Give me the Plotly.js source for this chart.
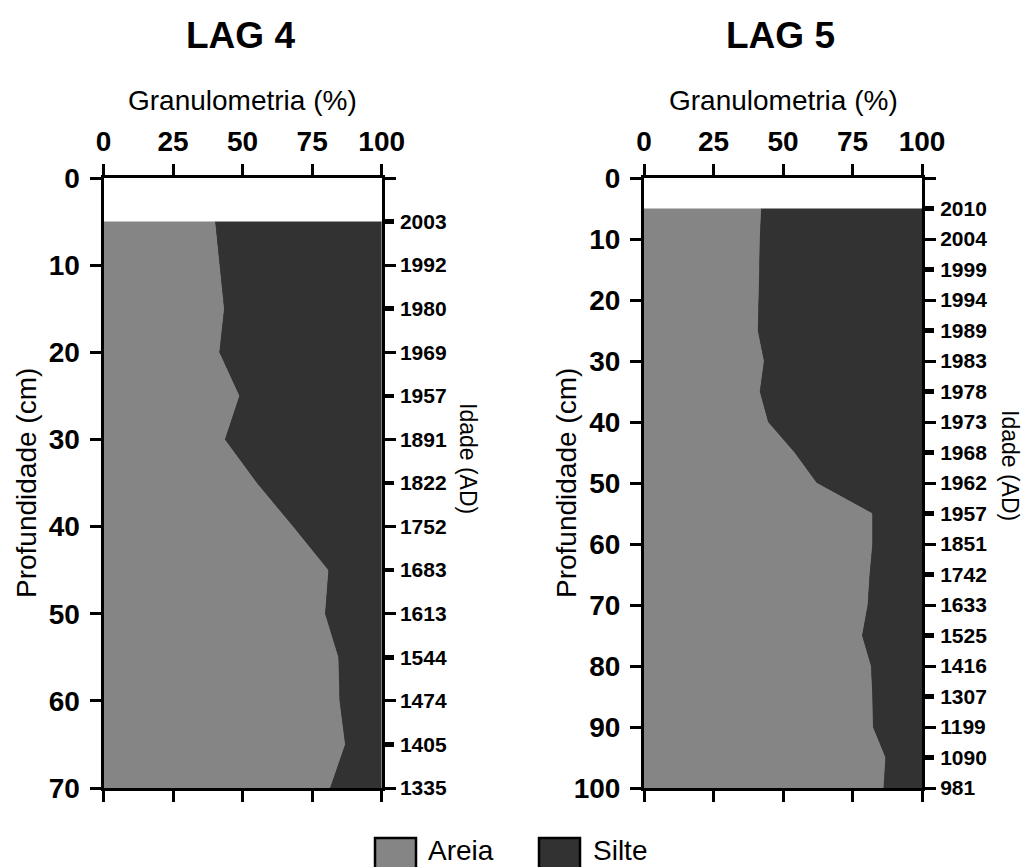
<!DOCTYPE html>
<html>
<head>
<meta charset="utf-8">
<script src="https://cdn.plot.ly/plotly-3.0.1.min.js"></script>
<style>
html,body{margin:0;padding:0;background:#fff;}
#chart{width:1036px;height:867px;}
</style>
</head>
<body>
<div id="chart"></div>
<script>
// ---- data ----
var lag4Depth = [5, 10, 15, 20, 25, 30, 35, 40, 45, 50, 55, 60, 65, 70];
var lag4Areia = [40, 41.7, 43.2, 41.5, 48.7, 43.5, 55, 68, 80.7, 79.5, 84.3, 84.7, 86.7, 81.3];
var lag4Silte = [60, 58.3, 56.8, 58.5, 51.3, 56.5, 45, 32, 19.3, 20.5, 15.7, 15.3, 13.3, 18.7];
var lag4Idade = ['2003','1992','1980','1969','1957','1891','1822','1752','1683','1613','1544','1474','1405','1335'];

var lag5Depth = [5, 10, 15, 20, 25, 30, 35, 40, 45, 50, 55, 60, 65, 70, 75, 80, 85, 90, 95, 100];
var lag5Areia = [42, 41.5, 41.3, 41, 40.8, 43, 41.5, 44.5, 54, 62, 82, 82, 81, 80.3, 78.3, 81.5, 82, 82.2, 86.7, 86];
var lag5Silte = [58, 58.5, 58.7, 59, 59.2, 57, 58.5, 55.5, 46, 38, 18, 18, 19, 19.7, 21.7, 18.5, 18, 17.8, 13.3, 14];
var lag5Idade = ['2010','2004','1999','1994','1989','1983','1978','1973','1968','1962','1957','1851','1742','1633','1525','1416','1307','1199','1090','981'];

var xTicks = [0, 25, 50, 75, 100];
var lag4DepthTicks = [0, 10, 20, 30, 40, 50, 60, 70];
var lag5DepthTicks = [0, 10, 20, 30, 40, 50, 60, 70, 80, 90, 100];

var seriesNames = ['Areia', 'Silte'];
var titles = ['LAG 4', 'LAG 5'];

// ---- style ----
var W = 1036, H = 867;
var FONT = 'Liberation Sans, Arial, sans-serif';
var cAreia = '#858585', cSilte = '#323232';
function px(x){ return x / W; }
function py(y){ return 1 - y / H; }

function areaTrace(xs, ys, name, color, group, xa, ya){
  return {x: xs, y: ys, name: name, type: 'scatter', mode: 'lines', stackgroup: group, orientation: 'h',
    line: {width: 0.5, color: color}, fillcolor: color, xaxis: xa, yaxis: ya, showlegend: false, hoverinfo: 'skip'};
}
// invisible helper traces so the age axes (overlaying) get drawn
function ageTrace(depths, xa, ya){
  return {x: depths.map(function(){ return 0; }), y: depths, type: 'scatter', mode: 'markers',
    marker: {opacity: 0, size: 1}, xaxis: xa, yaxis: ya, showlegend: false, hoverinfo: 'skip'};
}

var traces = [
  areaTrace(lag4Areia, lag4Depth, seriesNames[0], cAreia, 'a', 'x', 'y'),
  areaTrace(lag4Silte, lag4Depth, seriesNames[1], cSilte, 'a', 'x', 'y'),
  areaTrace(lag5Areia, lag5Depth, seriesNames[0], cAreia, 'b', 'x2', 'y2'),
  areaTrace(lag5Silte, lag5Depth, seriesNames[1], cSilte, 'b', 'x2', 'y2'),
  ageTrace(lag4Depth, 'x', 'y3'),
  ageTrace(lag5Depth, 'x2', 'y4'),
  ageTrace(lag4Depth, 'x', 'y5'),
  ageTrace(lag5Depth, 'x2', 'y6')
];

var yDom = [py(788), py(178)];
var x1Dom = [px(103.5), px(381.7)];
var x2Dom = [px(644), px(922)];

function xAxis(dom, anchor){
  return {domain: dom, anchor: anchor, range: [0, 100], side: 'top', tickmode: 'array', tickvals: xTicks,
    ticks: 'outside', ticklen: 11, tickwidth: 3, tickcolor: '#000', showline: true, linewidth: 3, linecolor: '#000',
    mirror: 'ticks', showgrid: false, zeroline: false, fixedrange: true, automargin: false,
    tickfont: {family: FONT, size: 28, color: '#000', weight: 'bold'}, ticklabelstandoff: 2};
}
function yAxis(anchor, maxD, tv){
  return {domain: yDom, anchor: anchor, range: [maxD, 0], tickmode: 'array', tickvals: tv,
    ticks: 'outside', ticklen: 11, tickwidth: 3, tickcolor: '#000', showline: true, linewidth: 3, linecolor: '#000',
    mirror: 'ticks', showgrid: false, zeroline: false, fixedrange: true, automargin: false,
    tickfont: {family: FONT, size: 28, color: '#000', weight: 'bold'}, ticklabelstandoff: 4};
}
function ageAxis(over, anchor, maxD, depths, labels){
  return {domain: yDom, overlaying: over, anchor: anchor, side: 'right', range: [maxD, 0], tickmode: 'array',
    tickvals: depths, ticktext: labels, ticks: 'outside', ticklen: 11, tickwidth: 3, tickcolor: '#000',
    showline: false, showgrid: false, zeroline: false, fixedrange: true, automargin: false,
    tickfont: {family: FONT, size: 21, color: '#000', weight: 'bold'}, ticklabelstandoff: 2};
}
function thickAxis(over, anchor, maxD, depths){
  var tv = depths.filter(function(d, i){ return i % 2 === 0; });
  return {domain: yDom, overlaying: over, anchor: anchor, side: 'right', range: [maxD, 0], tickmode: 'array',
    tickvals: tv, ticks: 'outside', ticklen: 11, tickwidth: 4.5, tickcolor: '#000', showticklabels: false,
    showline: false, showgrid: false, zeroline: false, fixedrange: true, automargin: false};
}

var annFont = function(size, bold){ return {family: FONT, size: size, color: '#000', weight: bold ? 'bold' : 'normal'}; };
var annotations = [
  {text: titles[0], x: px(240), y: py(35), xref: 'paper', yref: 'paper', xanchor: 'center', yanchor: 'middle', showarrow: false, font: annFont(37, true)},
  {text: titles[1], x: px(780), y: py(35), xref: 'paper', yref: 'paper', xanchor: 'center', yanchor: 'middle', showarrow: false, font: annFont(37, true)},
  {text: 'Granulometria (%)', x: px(242), y: py(101), xref: 'paper', yref: 'paper', xanchor: 'center', yanchor: 'middle', showarrow: false, font: annFont(28, false)},
  {text: 'Granulometria (%)', x: px(783), y: py(101), xref: 'paper', yref: 'paper', xanchor: 'center', yanchor: 'middle', showarrow: false, font: annFont(28, false)},
  {text: 'Profundidade (cm)', x: px(26), y: py(483), xref: 'paper', yref: 'paper', xanchor: 'center', yanchor: 'middle', textangle: -90, showarrow: false, font: annFont(28, false)},
  {text: 'Profundidade (cm)', x: px(566), y: py(483), xref: 'paper', yref: 'paper', xanchor: 'center', yanchor: 'middle', textangle: -90, showarrow: false, font: annFont(28, false)},
  {text: 'Idade (AD)', x: px(468), y: py(458), xref: 'paper', yref: 'paper', xanchor: 'center', yanchor: 'middle', textangle: 90, showarrow: false, font: annFont(23, false)},
  {text: 'Idade (AD)', x: px(1010), y: py(465), xref: 'paper', yref: 'paper', xanchor: 'center', yanchor: 'middle', textangle: 90, showarrow: false, font: annFont(23, false)},
  {text: seriesNames[0], x: px(426), y: py(850), xref: 'paper', yref: 'paper', xanchor: 'left', yanchor: 'middle', showarrow: false, font: annFont(28, false)},
  {text: seriesNames[1], x: px(591), y: py(850), xref: 'paper', yref: 'paper', xanchor: 'left', yanchor: 'middle', showarrow: false, font: annFont(28, false)}
];

var shapes = [
  {type: 'rect', xref: 'paper', yref: 'paper', x0: px(375), x1: px(416), y0: py(838), y1: py(878), fillcolor: cAreia, line: {color: '#000', width: 2.5}},
  {type: 'rect', xref: 'paper', yref: 'paper', x0: px(539), x1: px(580), y0: py(838), y1: py(878), fillcolor: cSilte, line: {color: '#000', width: 2.5}}
];

var layout = {
  width: W, height: H, margin: {l: 0, r: 0, t: 0, b: 0},
  paper_bgcolor: '#fff', plot_bgcolor: 'rgba(0,0,0,0)', showlegend: false,
  font: {family: FONT, color: '#000'},
  xaxis: xAxis(x1Dom, 'y'),
  yaxis: yAxis('x', 70, lag4DepthTicks),
  xaxis2: xAxis(x2Dom, 'y2'),
  yaxis2: yAxis('x2', 100, lag5DepthTicks),
  yaxis3: ageAxis('y', 'x', 70, lag4Depth, lag4Idade),
  yaxis4: ageAxis('y2', 'x2', 100, lag5Depth, lag5Idade),
  yaxis5: thickAxis('y', 'x', 70, lag4Depth),
  yaxis6: thickAxis('y2', 'x2', 100, lag5Depth),
  annotations: annotations,
  shapes: shapes
};

Plotly.newPlot('chart', traces, layout, {displayModeBar: false, staticPlot: true});
</script>
</body>
</html>
